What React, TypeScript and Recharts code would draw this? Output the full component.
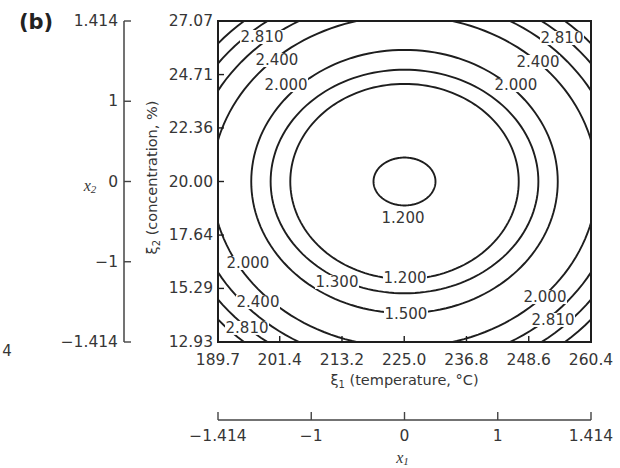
import { ComposedChart, Line, XAxis, YAxis, ReferenceArea, Scatter } from 'recharts';

const INK = '#1e1e1e';
const TEXT = '#363636';
const FONT = '"DejaVu Sans", sans-serif';

// natural variables (tick labels)
const tempTicks = [189.7, 201.4, 213.2, 225.0, 236.8, 248.6, 260.4];
const concTicks = [12.93, 15.29, 17.64, 20.0, 22.36, 24.71, 27.07];
// coded scales beside / under the plot: the figure draws these ticks evenly spaced
const codedTickPos = [-1.414, -0.707, 0, 0.707, 1.414];
const codedTickLabels = ['\u22121.414', '\u22121', '0', '1', '1.414'];

// coded -> natural: xi1 = 225.05 + 25 x1, xi2 = 20 + 5 x2
const tempCenter = 225.05;
const tempStep = 25;
const concCenter = 20;
const concStep = 5;

// contour rings, coded units, centred on x1 = x2 = 0
const ringLevels = [1.2, 1.2, 1.3, 1.5, 2.0, 2.4, 2.81, 3.2];
const ringRadiusX1 = [0.235, 0.866, 1.015, 1.162, 1.46, 1.625, 1.755, 1.865];
const ringRadiusX2 = [0.211, 0.86, 0.985, 1.16, 1.46, 1.625, 1.755, 1.865];

// contour labels (coded position)
const labelText = ['2.810', '2.400', '2.000', '2.810', '2.400', '2.000', '2.000', '2.400', '2.810', '1.300', '1.200', '1.500', '1.200', '2.000', '2.810'];
const labelX1 = [-1.08, -0.967, -0.898, 1.194, 1.012, 0.845, -1.187, -1.111, -1.194, -0.512, 0.004, 0.011, -0.011, 1.065, 1.126];
const labelX2 = [1.273, 1.07, 0.85, 1.264, 1.053, 0.85, -0.718, -1.062, -1.29, -0.885, -0.85, -1.167, -0.322, -1.018, -1.22];

const ringData = ringLevels.map((level, i) => {
  const pts = [];
  for (let k = 0; k <= 160; k++) {
    const t = (k / 160) * Math.PI * 2;
    pts.push({ x: ringRadiusX1[i] * Math.cos(t), y: ringRadiusX2[i] * Math.sin(t) });
  }
  return { level, pts };
});

const labelData = labelText.map((text, i) => ({
  x: tempCenter + tempStep * labelX1[i],
  y: concCenter + concStep * labelX2[i],
  text,
}));

const codedLabel = (v: number) => {
  const i = codedTickPos.findIndex((t) => Math.abs(t - v) < 1e-6);
  return i >= 0 ? codedTickLabels[i] : String(v);
};

const TempTick = (p: any) => (
  <g>
    <line x1={p.x} y1={p.y} x2={p.x} y2={p.y - 6} stroke={INK} strokeWidth={1.4} />
    <text x={p.x} y={p.y + 18} textAnchor="middle" dominantBaseline="central" fontSize={15.5} fontFamily={FONT} fill={TEXT}>
      {Number(p.payload.value).toFixed(1)}
    </text>
  </g>
);

const ConcTick = (p: any) => (
  <g>
    <line x1={p.x} y1={p.y} x2={p.x + 6} y2={p.y} stroke={INK} strokeWidth={1.4} />
    <text x={p.x - 5} y={p.y} textAnchor="end" dominantBaseline="central" fontSize={15.5} fontFamily={FONT} fill={TEXT}>
      {Number(p.payload.value).toFixed(2)}
    </text>
  </g>
);

const CodedXTick = (p: any) => (
  <g>
    <line x1={p.x} y1={p.y} x2={p.x} y2={p.y - 8} stroke="#444" strokeWidth={1.4} />
    <text x={p.x} y={p.y + 16} textAnchor="middle" dominantBaseline="central" fontSize={15.5} fontFamily={FONT} fill={TEXT}>
      {codedLabel(p.payload.value)}
    </text>
  </g>
);

const CodedYTick = (p: any) => (
  <g>
    <line x1={p.x} y1={p.y} x2={p.x + 7} y2={p.y} stroke="#444" strokeWidth={1.4} />
    <text x={p.x - 6} y={p.y} textAnchor="end" dominantBaseline="central" fontSize={15.5} fontFamily={FONT} fill={TEXT}>
      {codedLabel(p.payload.value)}
    </text>
  </g>
);

const TempLabel = (p: any) => {
  const vb = p.viewBox || {};
  return (
    <text x={vb.x + vb.width / 2} y={vb.y + 38} textAnchor="middle" dominantBaseline="central" fontSize={14.5} fontFamily={FONT} fill={TEXT}>
      <tspan>ξ</tspan>
      <tspan fontSize={10} dy={4}>1</tspan>
      <tspan dy={-4}> (temperature, °C)</tspan>
    </text>
  );
};

const ConcLabel = (p: any) => {
  const vb = p.viewBox || {};
  const cx = vb.x + 28;
  const cy = vb.y + vb.height / 2 - 4;
  return (
    <text x={cx} y={cy} transform={`rotate(-90 ${cx} ${cy})`} textAnchor="middle" dominantBaseline="central" fontSize={14.5} fontFamily={FONT} fill={TEXT}>
      <tspan>ξ</tspan>
      <tspan fontSize={10} dy={4}>2</tspan>
      <tspan dy={-4}> (concentration, %)</tspan>
    </text>
  );
};

const X1Label = (p: any) => {
  const vb = p.viewBox || {};
  return (
    <text x={vb.x + vb.width / 2 - 2} y={vb.y + 37} textAnchor="middle" dominantBaseline="central" fontSize={16} fontStyle="italic" fontFamily='"Liberation Serif", serif' fill={TEXT}>
      <tspan>x</tspan>
      <tspan fontSize={11} dy={4}>1</tspan>
    </text>
  );
};

const X2Label = (p: any) => {
  const vb = p.viewBox || {};
  return (
    <g>
      <text x={vb.x + 26} y={vb.y + 164} textAnchor="middle" dominantBaseline="central" fontSize={16} fontStyle="italic" fontFamily='"Liberation Serif", serif' fill={TEXT}>
        <tspan>x</tspan>
        <tspan fontSize={11} dy={4}>2</tspan>
      </text>
      <text x={vb.x - 28} y={vb.y + 1} textAnchor="middle" dominantBaseline="central" fontSize={21} fontWeight="bold" fontFamily={FONT} fill="#222">
        (b)
      </text>
      <text x={vb.x - 57} y={vb.y + 330} textAnchor="middle" dominantBaseline="central" fontSize={15} fontFamily={FONT} fill={TEXT}>
        4
      </text>
    </g>
  );
};

const ContourLabel = (p: any) => {
  const { cx, cy, payload } = p;
  return (
    <g>
      <rect x={cx - 22} y={cy - 7} width={44} height={14} fill="#fff" />
      <text x={cx} y={cy} textAnchor="middle" dominantBaseline="central" fontSize={15} fontFamily={FONT} fill={TEXT}>
        {payload.text}
      </text>
    </g>
  );
};

export default function App() {
  return (
    <div style={{ position: 'absolute', left: 0, top: 0, width: 620, height: 468, background: '#fff' }}>
      <ComposedChart width={620} height={468} margin={{ top: 21, right: 29, left: 64, bottom: 0 }}>
        <XAxis
          xAxisId="temp"
          dataKey="x"
          type="number"
          domain={[189.7, 260.4]}
          allowDataOverflow
          ticks={tempTicks}
          interval={0}
          height={78}
          axisLine={false}
          tickLine={false}
          tickSize={0}
          tickMargin={0}
          tick={TempTick}
          label={TempLabel}
        />
        <XAxis
          xAxisId="x1"
          dataKey="x"
          type="number"
          domain={[-1.414, 1.414]}
          allowDataOverflow
          ticks={codedTickPos}
          interval={0}
          height={48}
          axisLine={{ stroke: '#444', strokeWidth: 1.5 }}
          tickLine={false}
          tickSize={0}
          tickMargin={0}
          tick={CodedXTick}
          label={X1Label}
        />
        <YAxis
          yAxisId="conc"
          type="number"
          domain={[12.93, 27.07]}
          allowDataOverflow
          ticks={concTicks}
          interval={0}
          width={94}
          axisLine={false}
          tickLine={false}
          tickSize={0}
          tickMargin={0}
          tick={ConcTick}
          label={ConcLabel}
        />
        <YAxis
          yAxisId="x2"
          type="number"
          domain={[-1.414, 1.414]}
          allowDataOverflow
          ticks={codedTickPos}
          interval={0}
          width={60}
          axisLine={{ stroke: '#444', strokeWidth: 1.5 }}
          tickLine={false}
          tickSize={0}
          tickMargin={0}
          tick={CodedYTick}
          label={X2Label}
        />
        {ringData.map((r, i) => (
          <Line
            key={i}
            xAxisId="x1"
            yAxisId="x2"
            data={r.pts}
            dataKey="y"
            type="linear"
            dot={false}
            activeDot={false}
            stroke={INK}
            strokeWidth={1.9}
            isAnimationActive={false}
          />
        ))}
        <Scatter
          xAxisId="temp"
          yAxisId="conc"
          data={labelData}
          dataKey="y"
          shape={ContourLabel}
          isAnimationActive={false}
        />
        <ReferenceArea
          xAxisId="temp"
          yAxisId="conc"
          x1={189.7}
          x2={260.4}
          y1={12.93}
          y2={27.07}
          fill="none"
          fillOpacity={0}
          stroke={INK}
          strokeWidth={2}
        />
      </ComposedChart>
    </div>
  );
}
